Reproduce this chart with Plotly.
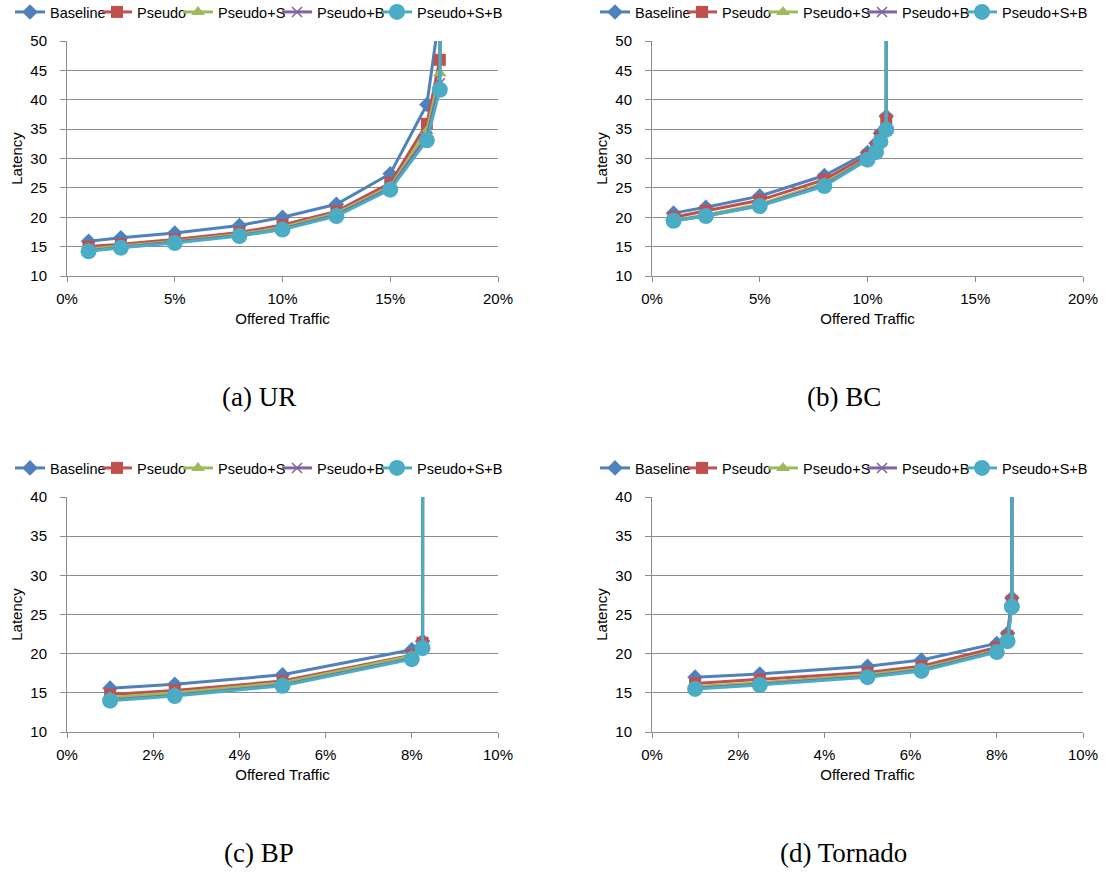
import plotly.graph_objects as go

series_names = ["Baseline", "Pseudo", "Pseudo+S", "Pseudo+B", "Pseudo+S+B"]
colors = ["#4F81BD", "#C0504D", "#9BBB59", "#8064A2", "#4BACC6"]
symbols = ["diamond", "square", "triangle-up", "x-thin", "circle"]
sizes = [12, 12, 12, 10, 16]
legend_widths = [42, 36, 54, 55, 90]

# (a) UR
traffic_ur = [1, 2.5, 5, 8, 10, 12.5, 15, 16.7, 17.3, 17.4]
ur_baseline = [15.9, 16.5, 17.3, 18.6, 20.0, 22.2, 27.4, 39.2, 55.0, 100]
ur_pseudo = [15.0, 15.4, 16.2, 17.4, 18.7, 21.0, 25.8, 35.9, 46.8, 100]
ur_pseudo_s = [14.6, 15.1, 15.9, 17.1, 18.3, 20.7, 25.2, 34.7, 44.5, 100]
ur_pseudo_b = [14.3, 14.9, 15.8, 16.9, 18.0, 20.4, 24.9, 33.7, 42.8, 100]
ur_pseudo_sb = [14.2, 14.8, 15.6, 16.8, 17.9, 20.2, 24.7, 33.1, 41.7, 100]

# (b) BC
traffic_bc = [1, 2.5, 5, 8, 10, 10.4, 10.6, 10.87, 10.88]
bc_baseline = [20.7, 21.7, 23.6, 27.1, 31.0, 32.6, 34.3, 37.2, 200]
bc_pseudo = [20.0, 21.1, 22.9, 26.4, 30.5, 32.0, 33.8, 36.6, 200]
bc_pseudo_s = [19.5, 20.4, 22.2, 25.8, 30.0, 31.5, 33.2, 35.6, 200]
bc_pseudo_b = [19.4, 20.2, 22.0, 25.5, 29.9, 31.2, 33.0, 35.1, 200]
bc_pseudo_sb = [19.4, 20.2, 21.9, 25.3, 29.8, 31.1, 32.9, 34.9, 200]

# (c) BP
traffic_bp = [1, 2.5, 5, 8, 8.25, 8.26]
bp_baseline = [15.6, 16.1, 17.3, 20.5, 21.6, 200]
bp_pseudo = [14.8, 15.3, 16.5, 19.8, 21.4, 200]
bp_pseudo_s = [14.4, 15.0, 16.3, 19.7, 21.0, 200]
bp_pseudo_b = [14.1, 14.7, 16.0, 19.4, 20.8, 200]
bp_pseudo_sb = [14.0, 14.6, 15.9, 19.3, 20.7, 200]

# (d) Tornado
traffic_tor = [1, 2.5, 5, 6.25, 8, 8.25, 8.35, 8.36]
tor_baseline = [17.0, 17.4, 18.4, 19.2, 21.3, 22.6, 27.1, 200]
tor_pseudo = [16.2, 16.7, 17.6, 18.4, 20.8, 22.2, 26.7, 200]
tor_pseudo_s = [15.8, 16.3, 17.3, 18.1, 20.4, 21.8, 26.3, 200]
tor_pseudo_b = [15.6, 16.1, 17.1, 17.9, 20.3, 21.7, 26.2, 200]
tor_pseudo_sb = [15.5, 16.0, 17.0, 17.8, 20.2, 21.6, 26.0, 200]

panels = [
    dict(x=traffic_ur, ys=[ur_baseline, ur_pseudo, ur_pseudo_s, ur_pseudo_b, ur_pseudo_sb],
         yrange=[10, 50], xmax=20, xdt=5, title="(a) UR"),
    dict(x=traffic_bc, ys=[bc_baseline, bc_pseudo, bc_pseudo_s, bc_pseudo_b, bc_pseudo_sb],
         yrange=[10, 50], xmax=20, xdt=5, title="(b) BC"),
    dict(x=traffic_bp, ys=[bp_baseline, bp_pseudo, bp_pseudo_s, bp_pseudo_b, bp_pseudo_sb],
         yrange=[10, 40], xmax=10, xdt=2, title="(c) BP"),
    dict(x=traffic_tor, ys=[tor_baseline, tor_pseudo, tor_pseudo_s, tor_pseudo_b, tor_pseudo_sb],
         yrange=[10, 40], xmax=10, xdt=2, title="(d) Tornado"),
]

W, H = 1109, 873
xdoms = [[67 / W, 498 / W], [652 / W, 1083 / W]]
ydoms = [[1 - 276 / H, 1 - 41 / H], [1 - 732 / H, 1 - 497 / H]]

fig = go.Figure()
font = "Liberation Sans, Arial, sans-serif"
grid = "#8C8C8C"
layout = {}
annotations = []

for i, p in enumerate(panels):
    col, row = i % 2, i // 2
    xa = "x" if i == 0 else f"x{i+1}"
    ya = "y" if i == 0 else f"y{i+1}"
    lg = "legend" if i == 0 else f"legend{i+1}"
    for s in range(5):
        marker = dict(symbol=symbols[s], size=sizes[s], color=colors[s])
        if symbols[s] == "x-thin":
            marker["line"] = dict(width=1.5, color=colors[s])
        fig.add_trace(go.Scatter(
            x=p["x"], y=p["ys"][s], name=series_names[s], mode="lines+markers",
            line=dict(color=colors[s], width=3), marker=marker,
            xaxis=xa, yaxis=ya, legend=lg, showlegend=True,
            legendwidth=legend_widths[s]))
    xkey = "xaxis" if i == 0 else f"xaxis{i+1}"
    ykey = "yaxis" if i == 0 else f"yaxis{i+1}"
    tv = list(range(0, p["xmax"] + 1, p["xdt"]))
    layout[xkey] = dict(
        domain=xdoms[col], anchor=ya, range=[0, p["xmax"]],
        tickvals=tv, ticktext=[f"{v}%" for v in tv],
        showgrid=False, zeroline=False, showline=True, linecolor=grid, linewidth=1,
        ticks="outside", ticklen=5, tickcolor=grid, ticklabelstandoff=4,
        tickfont=dict(family=font, size=15, color="black"),
        title=dict(text="Offered Traffic", font=dict(family=font, size=15, color="black"), standoff=7),
    )
    layout[ykey] = dict(
        domain=ydoms[row], anchor=xa, range=p["yrange"],
        dtick=5, showgrid=True, gridcolor=grid, gridwidth=1,
        zeroline=False, showline=True, linecolor=grid, linewidth=1,
        ticks="outside", ticklen=6, tickcolor=grid, ticklabelstandoff=10,
        tickfont=dict(family=font, size=15, color="black"),
        title=dict(text="Latency", font=dict(family=font, size=15, color="black"), standoff=4),
    )
    x_left = xdoms[col][0] - 57 / W
    layout[lg] = dict(
        orientation="h", x=x_left, xanchor="left",
        y=ydoms[row][1] + 29 / H, yanchor="middle",
        font=dict(family=font, size=14.5, color="black"),
        itemwidth=30, bgcolor="rgba(0,0,0,0)", borderwidth=0,
        tracegroupgap=0, itemclick=False,
    )
    xc = (xdoms[col][0] + xdoms[col][1]) / 2
    annotations.append(dict(
        text=p["title"], xref="paper", yref="paper", x=xc - 24 / W, y=ydoms[row][0] - 121 / H,
        xanchor="center", yanchor="middle", showarrow=False,
        font=dict(family="Liberation Serif, Times New Roman, serif", size=27, color="black")))

fig.update_layout(
    width=W, height=H, margin=dict(l=0, r=0, t=0, b=0, autoexpand=False),
    plot_bgcolor="white", paper_bgcolor="white",
    annotations=annotations, **layout)

fig.write_html("out.html", config={"displayModeBar": False},
               post_script="document.body.style.margin='0px';document.body.style.padding='0px';")
